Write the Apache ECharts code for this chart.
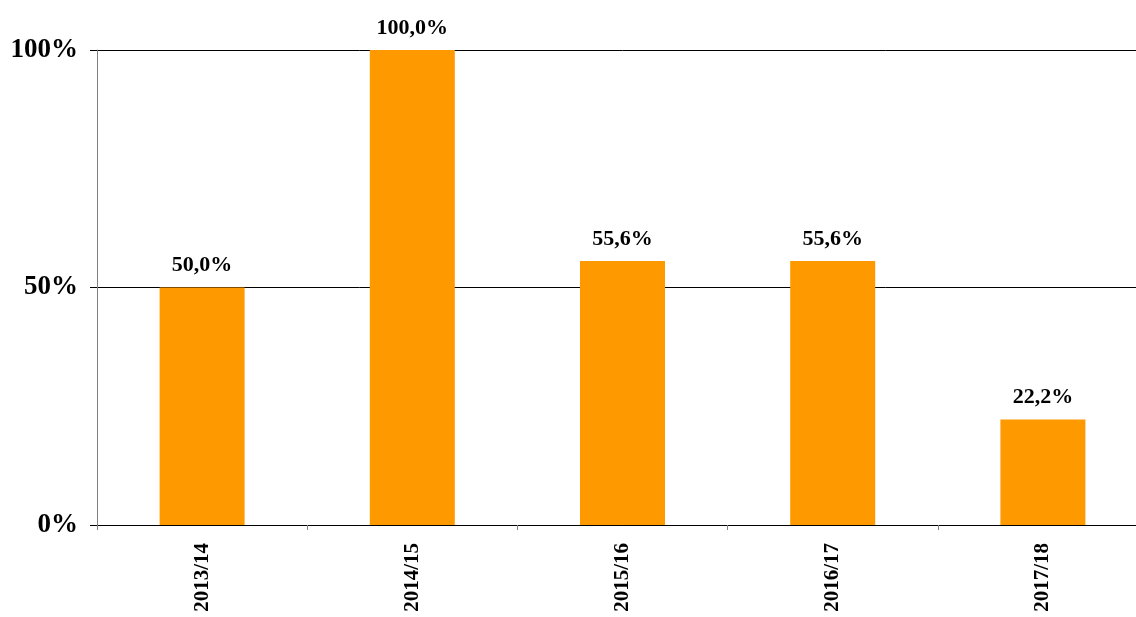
<!DOCTYPE html>
<html>
<head>
<meta charset="utf-8">
<script src="https://cdn.jsdelivr.net/npm/echarts@6/dist/echarts.min.js"></script>
<style>html,body{margin:0;padding:0;background:#fff;overflow:hidden;width:1136px;height:617px}#c{width:1148px;height:617px}</style>
</head>
<body>
<div id="c"></div>
<script>
const categories = ['2013/14', '2014/15', '2015/16', '2016/17', '2017/18'];
const values = [50.0, 100.0, 55.6, 55.6, 22.2];
const yTicks = [0, 50, 100];

const chart = echarts.init(document.getElementById('c'), null, {renderer: 'canvas'});
const font = '"Liberation Serif", "Times New Roman", serif';
chart.setOption({
  animation: false,
  backgroundColor: '#ffffff',
  grid: {left: 97, right: 0, top: 50, bottom: 92, containLabel: false},
  xAxis: {
    type: 'category',
    data: categories,
    axisLine: {show: true, lineStyle: {color: '#000000', width: 1}},
    axisTick: {show: true, length: 5, lineStyle: {color: '#808080'}},
    axisLabel: {
      rotate: 90, margin: 18, fontFamily: font, fontWeight: 'bold', fontSize: 21, color: '#000000'
    }
  },
  yAxis: {
    type: 'value',
    min: yTicks[0], max: yTicks[yTicks.length - 1], interval: 50,
    axisLine: {show: true, lineStyle: {color: '#808080', width: 1}},
    axisTick: {show: true, length: 7, lineStyle: {color: '#000000'}},
    splitLine: {show: true, lineStyle: {color: '#000000', width: 1}},
    axisLabel: {
      formatter: '{value}%', margin: 19, fontFamily: font, fontWeight: 'bold', fontSize: 27, color: '#000000'
    }
  },
  series: [{
    type: 'bar',
    data: values,
    barWidth: 85,
    itemStyle: {color: '#FF9900'},
    label: {
      show: true, position: 'top', distance: 11,
      fontFamily: font, fontWeight: 'bold', fontSize: 22, color: '#000000',
      formatter: p => p.value.toFixed(1).replace('.', ',') + '%'
    }
  }]
});
</script>
</body>
</html>
